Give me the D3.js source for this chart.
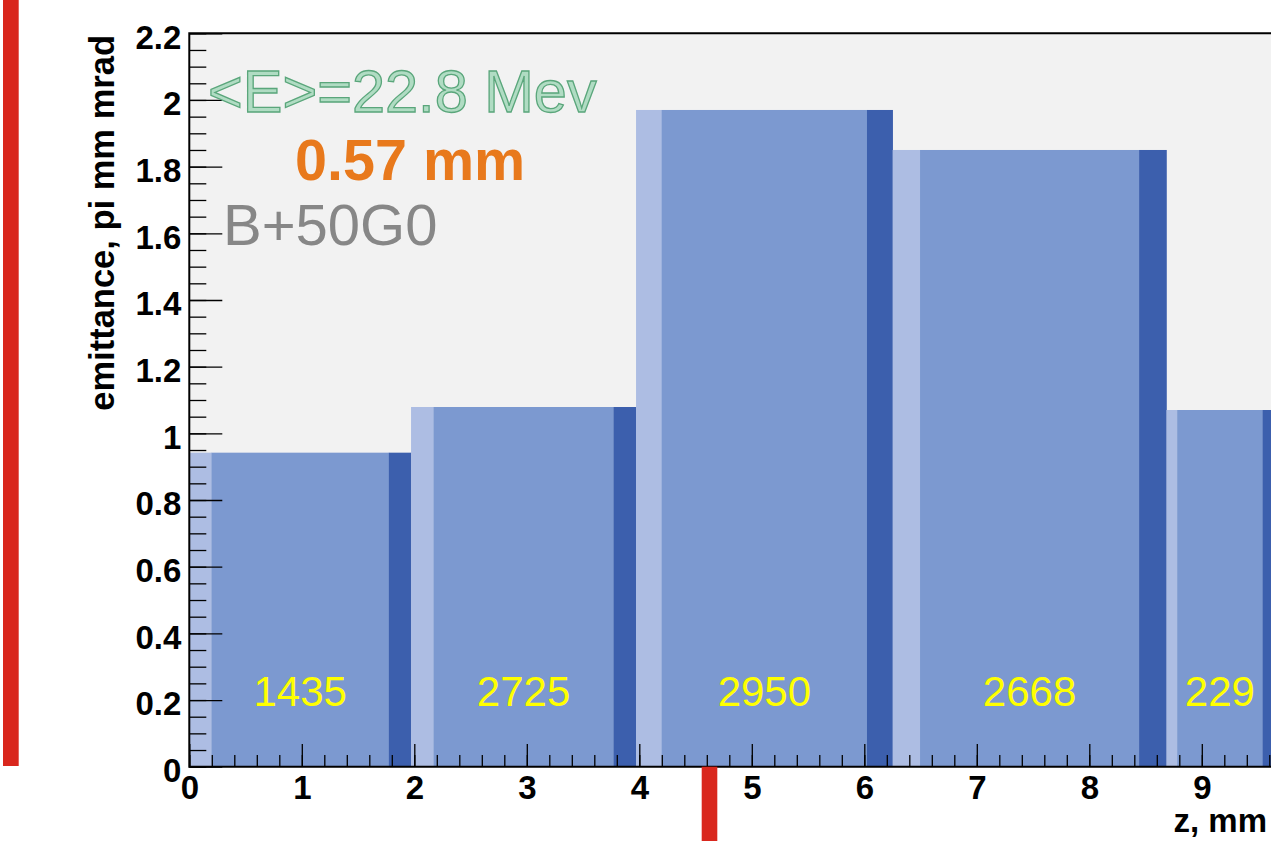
<!DOCTYPE html>
<html>
<head>
<meta charset="utf-8">
<script src="https://cdn.jsdelivr.net/npm/d3@7"></script>
<style>
  body { margin: 0; background: #fff; }
  svg { display: block; font-family: "Liberation Sans", Arial, Helvetica, sans-serif; }
</style>
</head>
<body>
<svg id="chart" width="1271" height="841"></svg>
<script>
/* global d3 */
// bins of the histogram (z, mm) and their heights
var binEdges = [0, 1.971, 3.971, 6.252, 8.686, 9.635];
var emittance = [0.942, 1.079, 1.97, 1.85, 1.07];
var counts = ["1435", "2725", "2950", "2668", "229"];
var yTicks = [0, 0.2, 0.4, 0.6, 0.8, 1, 1.2, 1.4, 1.6, 1.8, 2, 2.2];
var xTicks = [0, 1, 2, 3, 4, 5, 6, 7, 8, 9];
var notes = ["<E>=22.8 Mev", "0.57 mm", "B+50G0"];
var markerZ = 4.624;

var svg = d3.select("#chart"),
    margin = {top: 33.3, left: 189.3, bottom: 74.3},
    height = +svg.attr("height") - margin.top - margin.bottom;

var x = d3.scaleLinear().domain([0, 9.65]).range([margin.left, margin.left + 9.65 * 112.5]),
    y = d3.scaleLinear().domain([0, 2.2]).range([margin.top + height, margin.top]);

var y0 = y(0);

// plot background
svg.append("rect")
    .attr("x", x(0)).attr("y", y(2.2))
    .attr("width", 1271 - x(0)).attr("height", y0 - y(2.2))
    .attr("fill", "#f2f2f2");

// bars: light left 10%, middle 80%, dark right 10%
var bins = emittance.map(function (v, i) {
    return {lo: binEdges[i], hi: binEdges[i + 1], v: v, label: counts[i]};
});

var parts = [
    {from: 0, to: 0.1, color: "#adbde3"},
    {from: 0.1, to: 0.9, color: "#7c99d0"},
    {from: 0.9, to: 1, color: "#3c5fad"}
];

var bar = svg.selectAll(".bin")
    .data(bins)
    .enter().append("g")
    .attr("class", "bin");

parts.forEach(function (p) {
    bar.append("rect")
        .attr("x", function (d) { return x(d.lo + (d.hi - d.lo) * p.from); })
        .attr("width", function (d) { return x(d.lo + (d.hi - d.lo) * p.to) - x(d.lo + (d.hi - d.lo) * p.from) + 0.3; })
        .attr("y", function (d) { return y(d.v); })
        .attr("height", function (d) { return y0 - y(d.v); })
        .attr("fill", p.color);
});

bar.append("text")
    .attr("x", function (d) { return x((d.lo + d.hi) / 2); })
    .attr("y", 706)
    .attr("text-anchor", "middle")
    .attr("fill", "#ffff00")
    .style("font-size", "42px")
    .text(function (d) { return d.label; });

// y axis ticks (inside)
var yMinor = d3.range(0, 2.2001, 0.05).map(function (d) { return +d.toFixed(2); });
svg.append("g")
    .attr("transform", "translate(" + x(0) + ",0)")
    .call(d3.axisLeft(y).tickValues(yMinor).tickSize(-17).tickFormat(""))
    .call(function (g) { g.select(".domain").remove(); g.selectAll("line").attr("stroke", "#000").attr("stroke-width", 1.3); });

svg.append("g")
    .attr("class", "axis axis--y")
    .attr("transform", "translate(" + x(0) + ",0)")
    .call(d3.axisLeft(y).tickValues(yTicks).tickSize(-33).tickSizeOuter(0).tickPadding(8)
        .tickFormat(function (d) { return d3.format("")(+d.toFixed(1)); }))
    .call(function (g) {
        g.select(".domain").remove();
        g.selectAll("line").attr("stroke", "#000").attr("stroke-width", 1.3);
        g.selectAll("text")
            .attr("dy", "0.45em")
            .attr("fill", "#000")
            .style("font-size", "33px")
            .style("font-weight", "bold");
    });

// x axis ticks (inside)
var xMinor = d3.range(0, 9.61, 0.2).map(function (d) { return +d.toFixed(1); });
svg.append("g")
    .attr("transform", "translate(0," + y0 + ")")
    .call(d3.axisBottom(x).tickValues(xMinor).tickSize(-11.7).tickFormat(""))
    .call(function (g) { g.select(".domain").remove(); g.selectAll("line").attr("stroke", "#000").attr("stroke-width", 1.3); });

svg.append("g")
    .attr("class", "axis axis--x")
    .attr("transform", "translate(0," + y0 + ")")
    .call(d3.axisBottom(x).tickValues(xTicks).tickSize(-22.7).tickSizeOuter(0).tickPadding(8.5))
    .call(function (g) {
        g.select(".domain").remove();
        g.selectAll("line").attr("stroke", "#000").attr("stroke-width", 1.3);
        g.selectAll("text")
            .attr("fill", "#000")
            .style("font-size", "33px")
            .style("font-weight", "bold");
    });

// frame
svg.append("path")
    .attr("d", "M1271," + y(2.2) + "H" + x(0) + "V" + y0 + "H1271")
    .attr("fill", "none")
    .attr("stroke", "#000")
    .attr("stroke-width", 2);

// axis titles
svg.append("text")
    .attr("transform", "translate(113.5,35) rotate(-90)")
    .attr("text-anchor", "end")
    .style("font-size", "34.5px")
    .style("font-weight", "bold")
    .text("emittance, pi mm mrad");

svg.append("text")
    .attr("x", 1267)
    .attr("y", 832)
    .attr("text-anchor", "end")
    .style("font-size", "33px")
    .style("font-weight", "bold")
    .text("z, mm");

// annotations
svg.append("text")
    .attr("x", 208).attr("y", 111.7)
    .attr("fill", "#b0dcc3")
    .attr("stroke", "#5aa67b")
    .attr("stroke-width", 1.3)
    .style("font-size", "59.5px")
    .text(notes[0]);

svg.append("text")
    .attr("x", 295).attr("y", 180)
    .attr("fill", "#e8791c")
    .style("font-size", "57.5px")
    .style("font-weight", "bold")
    .text(notes[1]);

svg.append("text")
    .attr("x", 223).attr("y", 245)
    .attr("fill", "#878787")
    .style("font-size", "58px")
    .text(notes[2]);

// red markers
svg.append("rect")
    .attr("x", 3).attr("y", 0)
    .attr("width", 15.7).attr("height", 766)
    .attr("fill", "#d9271d");

svg.append("rect")
    .attr("x", x(markerZ) - 7.8).attr("y", y0)
    .attr("width", 15.6).attr("height", 841 - y0)
    .attr("fill", "#d9271d");
</script>
</body>
</html>
